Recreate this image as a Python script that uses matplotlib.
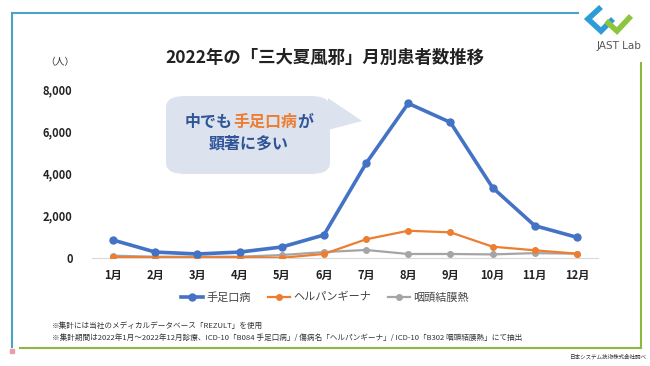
import matplotlib.pyplot as plt
from matplotlib.patches import FancyBboxPatch, Polygon, Rectangle
from matplotlib.lines import Line2D

plt.rcParams['font.family'] = ['Noto Sans CJK JP', 'DejaVu Sans']

months = ['1月', '2月', '3月', '4月', '5月', '6月', '7月', '8月', '9月', '10月', '11月', '12月']
hfmd = [850, 280, 190, 280, 520, 1090, 4480, 7320, 6420, 3330, 1530, 980]
herpangina = [50, 30, 30, 40, 10, 190, 885, 1290, 1215, 535, 365, 205]
pcf = [110, 60, 60, 60, 140, 280, 380, 190, 190, 170, 230, 205]
series_names = ['手足口病', 'ヘルパンギーナ', '咽頭結膜熱']
yticks = [0, 2000, 4000, 6000, 8000]

fig = plt.figure(figsize=(6.5, 3.66), dpi=100)
fig.patch.set_facecolor('white')

# 枠線
W, H = 650, 366
def fx(px): return px / W
def fy(py): return 1 - py / H
fig.add_artist(Line2D([fx(12), fx(578)], [fy(13), fy(13)], color='#4BA3C3', lw=1.5))
fig.add_artist(Line2D([fx(12), fx(12)], [fy(13), fy(347)], color='#4BA3C3', lw=1.5))
fig.add_artist(Line2D([fx(20), fx(641)], [fy(348), fy(348)], color='#8DB83F', lw=1.5))
fig.add_artist(Line2D([fx(641), fx(641)], [fy(63), fy(348)], color='#8DB83F', lw=1.5))
fig.add_artist(Rectangle((fx(10), fy(353)), fx(4), 4 / H, color='#E8A0A8'))

# ロゴ
fig.add_artist(Polygon([(fx(601), fy(7)), (fx(588), fy(19)), (fx(601), fy(31)), (fx(613), fy(19))],
                       closed=False, fill=False, color='#2E9BD6', lw=4))
fig.add_artist(Polygon([(fx(606), fy(21)), (fx(617), fy(31)), (fx(631), fy(16))],
                       closed=False, fill=False, color='#8CC63F', lw=4))
fig.text(fx(619), fy(46), 'JAST Lab', fontsize=7.5, color='#555555', ha='center', va='center',
         family=['DejaVu Sans'])

ax = fig.add_axes([fx(92), fy(258), fx(506), (258 - 89) / H])
x = list(range(1, 13))
ax.plot(x, pcf, color='#A5A5A5', lw=1.6, marker='o', ms=4, label=series_names[2], zorder=2)
ax.plot(x, herpangina, color='#ED7D31', lw=1.6, marker='o', ms=4, label=series_names[1], zorder=3)
ax.plot(x, hfmd, color='#4472C4', lw=2.6, marker='o', ms=5, label=series_names[0], zorder=4)

ax.set_xlim(0.5, 12.5)
ax.set_ylim(0, 8000)
ax.set_xticks(x)
ax.set_xticklabels(months, fontsize=8, fontweight='bold', color='#222222')
ax.set_yticks(yticks)
ax.set_yticklabels([f'{v:,}' for v in yticks], fontsize=8, fontweight='bold', color='#222222')
ax.tick_params(length=0)
ax.tick_params(axis='x', pad=8)
ax.tick_params(axis='y', pad=14)
for s in ['top', 'right', 'left']:
    ax.spines[s].set_visible(False)
ax.spines['bottom'].set_color('#D9D9D9')
ax.patch.set_alpha(0)

h, l = ax.get_legend_handles_labels()
fig.legend(h[::-1], l[::-1], loc='center', bbox_to_anchor=(0.5, fy(297)), ncol=3, frameon=False,
           fontsize=8, handlelength=2, columnspacing=1.5, handletextpad=0.3,
           labelcolor='#444444')

# タイトル
fig.text(0.5, fy(58), '2022年の「三大夏風邪」月別患者数推移', fontsize=12.5, fontweight='bold',
         ha='center', va='center', color='#222222')
fig.text(fx(60), fy(62), '（人）', fontsize=7, ha='center', va='center', color='#333333')

# 吹き出し
box = FancyBboxPatch((fx(166), fy(174)), fx(164), (174 - 96) / H,
                     boxstyle='round,pad=0,rounding_size=0.03', transform=fig.transFigure,
                     facecolor='#DCE3EF', edgecolor='none', zorder=1)
fig.add_artist(box)
fig.add_artist(Polygon([(fx(328), fy(98)), (fx(362), fy(121)), (fx(328), fy(130))],
                       closed=True, facecolor='#DCE3EF', edgecolor='none'))

renderer = fig.canvas.get_renderer()
parts = [('中でも', '#2F5597'), ('手足口病', '#ED7D31'), ('が', '#2F5597')]
kw = dict(fontsize=11.5, fontweight='bold', va='center', ha='left')
widths = []
for s, c in parts:
    t = fig.text(0, 0, s, **kw)
    widths.append(t.get_window_extent(renderer).width / fig.bbox.width)
    t.remove()
cx = fx(249) - sum(widths) / 2
for (s, c), w in zip(parts, widths):
    fig.text(cx, fy(122), s, color=c, **kw)
    cx += w
fig.text(fx(249), fy(144), '顕著に多い', fontsize=11.5, fontweight='bold', color='#2F5597',
         ha='center', va='center')

# 注釈
fig.text(fx(52), fy(326), '※集計には当社のメディカルデータベース「REZULT」を使用', fontsize=5.5,
         color='#333333', va='center')
fig.text(fx(52), fy(338), '※集計期間は2022年1月～2022年12月診療、ICD-10「B084 手足口病」/ 傷病名「ヘルパンギーナ」/ ICD-10「B302 咽頭結膜熱」にて抽出',
         fontsize=5.5, color='#333333', va='center')
fig.text(fx(646), fy(357), '日本システム技術株式会社調べ', fontsize=4, color='#333333',
         ha='right', va='center')

fig.savefig('out.png', dpi=100)
